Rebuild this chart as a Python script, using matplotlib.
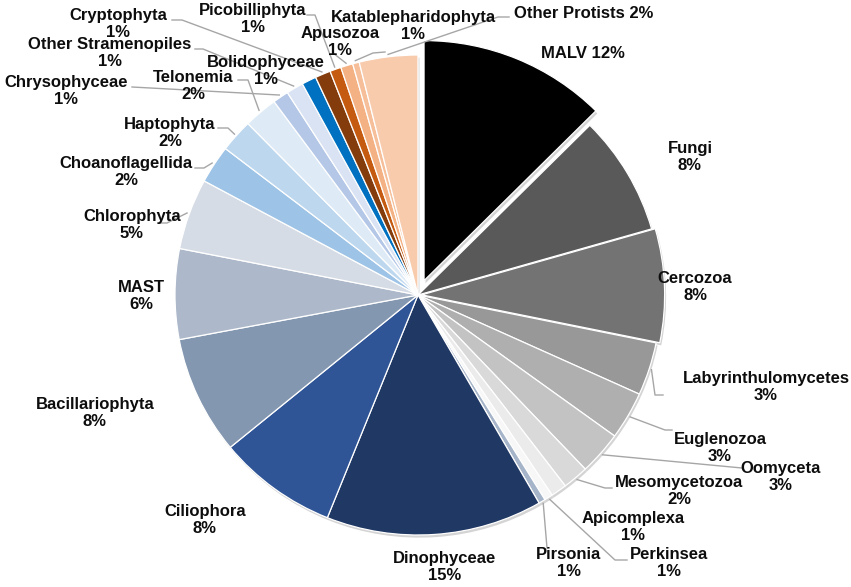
import numpy as np
import matplotlib
matplotlib.use('Agg')
import matplotlib.pyplot as plt
from matplotlib.patches import Wedge

# slices, clockwise from 12 o'clock (shares)
groups = ['MALV', 'Fungi', 'Cercozoa', 'Labyrinthulomycetes', 'Euglenozoa',
          'Oomyceta', 'Mesomycetozoa', 'Apicomplexa', 'Perkinsea', 'Pirsonia',
          'Dinophyceae', 'Ciliophora', 'Bacillariophyta', 'MAST', 'Chlorophyta',
          'Choanoflagellida', 'Haptophyta', 'Telonemia', 'Chrysophyceae',
          'Other Stramenopiles', 'Bolidophyceae', 'Cryptophyta', 'Picobilliphyta',
          'Apusozoa', 'Katablepharidophyta', 'Other Protists']
shares = [12.5, 8.06, 7.64, 3.58, 3.22,
          2.92, 1.72, 1.06, 0.56, 0.44,
          14.39, 7.97, 7.97, 6.08, 4.78,
          2.56, 2.22, 2.25, 1.06,
          1.14, 0.97, 1.03, 0.75,
          0.81, 0.44, 3.89]
pct_text = ['12%', '8%', '8%', '3%', '3%',
            '3%', '2%', '1%', '1%', '1%',
            '15%', '8%', '8%', '6%', '5%',
            '2%', '2%', '2%', '1%',
            '1%', '1%', '1%', '1%',
            '1%', '1%', '2%']

colors = ['#000000', '#595959', '#737373', '#989898', '#afafaf',
          '#c3c3c3', '#d9d9d9', '#ebebeb', '#f7f7f7', '#a5b4c8',
          '#203864', '#2f5597', '#8497b0', '#adb9ca', '#d6dce5',
          '#9dc3e6', '#bdd7ee', '#deebf7', '#b4c7e7',
          '#dae3f3', '#0070c0', '#843c0c', '#c55a11',
          '#f4b183', '#f6bf9a', '#f8cbad']
explode = [0.065 if g == 'MALV' else (0.015 if g == 'Cercozoa' else 0) for g in groups]

# pie centre and radii in pixels of the 851x587 image
W, H = 851, 587
CX, CY, RX, RY = 418, 295, 243, 240


def px(x, y):
    return (x - CX) / RX, (CY - y) / RY


# label centre (px), one line or two, and leader elbows (px) before the wedge
labels = {
    'MALV': ((583, 53), True, []),
    'Other Protists': ((584, 13), True, [(509, 17), (498, 17)]),
    'Fungi': ((690, 157), False, []),
    'Cercozoa': ((695, 287), False, []),
    'Labyrinthulomycetes': ((766, 387), False, [(663, 395), (655, 395)]),
    'Euglenozoa': ((720, 448), False, [(672, 430), (665, 430)]),
    'Oomyceta': ((781, 477), False, [(742, 468)]),
    'Mesomycetozoa': ((679, 491), False, [(612, 488), (605, 488)]),
    'Apicomplexa': ((633, 527), False, []),
    'Perkinsea': ((669, 563), False, [(627, 560), (615, 560)]),
    'Pirsonia': ((569, 563), False, [(547, 548)]),
    'Dinophyceae': ((445, 567), False, []),
    'Ciliophora': ((205, 520), False, []),
    'Bacillariophyta': ((95, 413), False, []),
    'MAST': ((141, 296), False, []),
    'Chlorophyta': ((132, 225), False, [(160, 223), (167, 223)]),
    'Choanoflagellida': ((126, 172), False, [(195, 168), (204, 168)]),
    'Haptophyta': ((170, 133), False, [(218, 128), (228, 128)]),
    'Telonemia': ((193, 86), False, [(238, 80), (248, 80)]),
    'Chrysophyceae': ((66, 91), False, [(132, 87)]),
    'Other Stramenopiles': ((110, 53), False, [(195, 49), (203, 49)]),
    'Bolidophyceae': ((266, 71), False, []),
    'Cryptophyta': ((118, 24), False, [(172, 20), (182, 20)]),
    'Picobilliphyta': ((253, 19), False, [(307, 15), (315, 15)]),
    'Apusozoa': ((340, 42), False, [(333, 53)]),
    'Katablepharidophyta': ((413, 26), False, [(385, 52), (373, 53)]),
}

fig = plt.figure(figsize=(W / 100, H / 100), dpi=100)
ax = fig.add_axes([0, 0, 1, 1])

wedges, _ = ax.pie(shares, colors=colors, explode=explode, startangle=90,
                   counterclock=False,
                   wedgeprops=dict(edgecolor='white', linewidth=0.9))

# faint outer shadow under every slice
for w in wedges:
    cx, cy = w.center
    ax.add_patch(Wedge((cx + 0.006, cy - 0.011), 1.0, w.theta1, w.theta2,
                       facecolor='#d4d4d4', edgecolor='none', zorder=0))

for w, g, p in zip(wedges, groups, pct_text):
    (tx, ty), one_line, elbows = labels[g]
    text = f'{g} {p}' if one_line else f'{g}\n{p}'
    x, y = px(tx, ty)
    ax.text(x, y, text, ha='center', va='center', multialignment='center',
            fontsize=12, fontweight='bold', family='Liberation Sans',
            color='#0d0d0d', linespacing=1.15, zorder=5)
    if elbows:
        mid = np.deg2rad((w.theta1 + w.theta2) / 2)
        pts = [px(*e) for e in elbows]
        pts.append((w.center[0] + 1.01 * np.cos(mid), w.center[1] + 1.01 * np.sin(mid)))
        xs, ys = zip(*pts)
        ax.plot(xs, ys, color='#a6a6a6', lw=1, zorder=4)

ax.set_aspect('auto')
ax.set_xlim(-CX / RX, (W - CX) / RX)
ax.set_ylim(-(H - CY) / RY, CY / RY)
ax.axis('off')

fig.savefig('out.png', dpi=100)
